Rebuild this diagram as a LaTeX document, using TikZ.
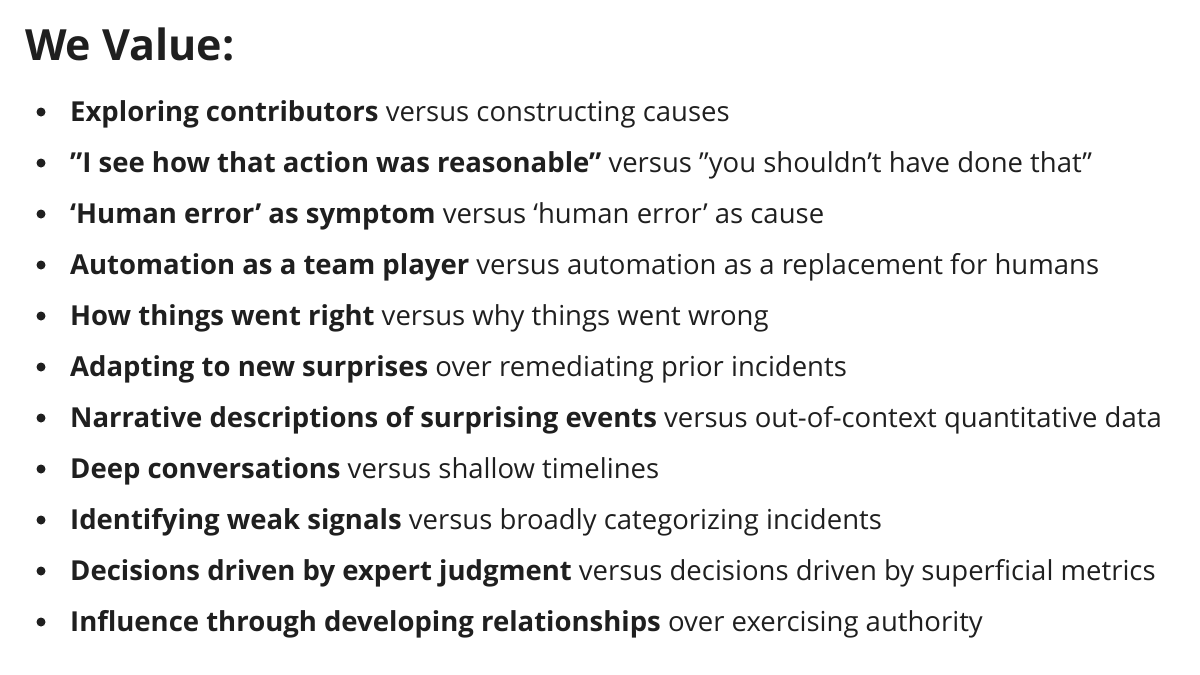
\documentclass[tikz,border=0pt]{standalone}
\usepackage{fontspec}
\setmainfont{Open Sans}
\newcommand{\dq}{\char"22\relax}
\newcommand{\sq}{\char"27\relax}
\begin{document}
\begin{tikzpicture}[x=1pt,y=1pt,
  item/.style={anchor=base west,inner sep=0pt,font=\fontsize{27.5}{32}\selectfont,text=black!88},
  dot/.style={circle,fill=black!88,inner sep=0pt,minimum size=9pt}]
\useasboundingbox (0,0) rectangle (1200,-675);
\node[anchor=base west,inner sep=0pt,font=\fontsize{43}{48}\selectfont\bfseries,text=black!88] (title) at (25,-60) {We Value:};
\foreach \i/\b/\r in {
 1/{Exploring contributors}/{versus constructing causes},
 2/{\dq I see how that action was reasonable\dq}/{versus \dq you shouldn\sq t have done that\dq},
 3/{‘Human error’ as symptom}/{versus ‘human error’ as cause},
 4/{Automation as a team player}/{versus automation as a replacement for humans},
 5/{How things went right}/{versus why things went wrong},
 6/{Adapting to new surprises}/{over remediating prior incidents},
 7/{Narrative descriptions of surprising events}/{versus out-of-context quantitative data},
 8/{Deep conversations}/{versus shallow timelines},
 9/{Identifying weak signals}/{versus broadly categorizing incidents},
 10/{Decisions driven by expert judgment}/{versus decisions driven by superficial metrics},
 11/{Influence through developing relationships}/{over exercising authority}}{
  \node[item] (l\i) at (70,{-121-51*(\i-1)}) {\textbf{\b} \r};
  \node[dot] (d\i) at (41,{-112-51*(\i-1)}) {};
}
\end{tikzpicture}
\end{document}
